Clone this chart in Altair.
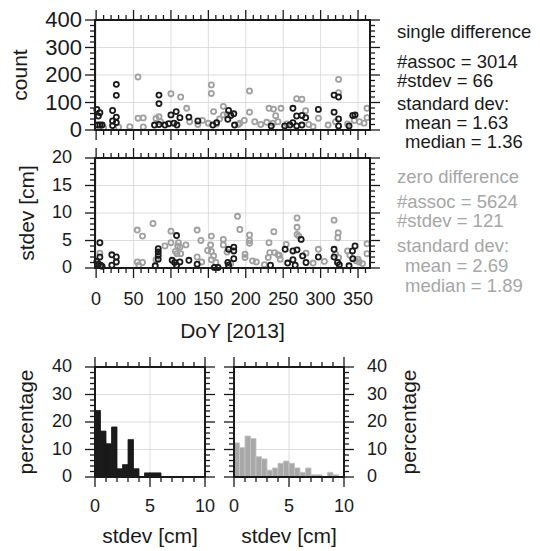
import altair as alt
import pandas as pd

# ---------------- data ----------------
# top panel: number of associations per day (single difference = black)
sd_count_doy = [1, 5, 3, 2, 5, 8,
                22, 22, 22, 27, 27, 27, 27,
                78, 84, 84, 84, 92, 97, 100, 104, 107, 112, 108, 124, 136,
                156, 161, 176, 177, 180, 184, 185,
                234, 252, 259, 263, 263, 268, 268, 275, 275, 280, 297,
                318, 318, 324, 324, 324, 338, 343, 346]
sd_count_val = [75, 63, 51, 18, 18, 18,
                71, 33, 16, 166, 126, 47, 27,
                18, 127, 96, 20, 18, 23, 55, 25, 67, 45, 18, 47, 33,
                18, 27, 39, 71, 53, 59, 18,
                15, 15, 18, 79, 27, 51, 15, 53, 18, 45, 75,
                127, 65, 120, 40, 15, 15, 53, 55]
# zero difference = grey
zd_count_doy = [56, 56, 63, 63, 80, 84, 86, 100, 113, 121,
                136, 142, 150, 154, 154, 157, 161, 165, 170, 170, 175,
                192, 198, 205, 205, 212, 220, 231, 237, 240, 247, 236, 243,
                268, 275, 280, 284, 297, 320, 324, 324, 336, 345, 352, 358,
                362, 362, 10, 30, 45, 125, 190, 228, 255, 290, 310]
zd_count_val = [193, 43, 44, 11, 42, 48, 30, 132, 120, 79,
                20, 35, 25, 164, 133, 67, 22, 40, 86, 55, 57,
                25, 35, 142, 65, 30, 20, 79, 76, 52, 79, 25, 30,
                114, 112, 70, 20, 43, 30, 184, 136, 22, 35, 30, 25,
                79, 45, 8, 10, 12, 30, 20, 28, 22, 12, 18]

# middle panel: standard deviation per day [cm]
sd_std_doy = [5, 5, 3, 6, 1, 8,
              21, 27, 27, 21,
              83, 83, 83, 83, 79,
              107.5, 101.6, 105, 112, 107.5, 124, 135, 158, 163,
              177, 184, 184, 184, 176, 177,
              233, 252.6, 263, 268.5, 274, 263, 276, 280.5, 256, 266,
              297, 318, 318, 322.6, 325,
              342.6, 346, 343, 338]
sd_std_val = [4.6, 2.0, 0.7, 0.5, 1.2, 0.3,
              2.4, 2.0, 1.1, 0.5,
              3.5, 2.9, 2.3, 1.6, 0.4,
              5.9, 1.4, 1.0, 1.1, 0.5, 1.4, 0.7, 0.1, 0.1,
              3.4, 3.8, 3.1, 1.7, 1.0, 0.5,
              0.5, 3.4, 3.1, 3.3, 5.2, 1.5, 2.2, 1.0, 0.9, 0.5,
              2.0, 3.4, 2.0, 1.0, 0.6,
              3.1, 4.0, 1.7, 0.4]
zd_std_doy = [5, 2, 55, 62, 55, 62, 57, 76,
              92, 100, 100, 108, 110, 112, 109, 106, 113, 120,
              135, 140, 135, 141, 154, 153, 149, 154, 157, 154, 160,
              170, 170, 175, 189, 192, 199, 199, 205, 205, 205, 209, 214,
              231, 237.5, 232, 238.5, 230, 245, 243, 246, 254,
              268.5, 268.5, 268.5, 271, 280.5, 297, 318, 323.5, 323, 320, 324,
              336, 339, 347, 351.6, 356, 350, 362, 362,
              80, 180, 290, 305, 225]
zd_std_val = [2.7, 1.0, 6.9, 5.8, 1.1, 1.0, 0.5, 8.1,
              4.0, 6.7, 4.6, 2.6, 4.6, 3.8, 4.0, 3.0, 2.6, 4.2,
              6.9, 5.0, 2.0, 1.1, 5.8, 4.2, 3.2, 3.0, 2.2, 1.5, 1.0,
              5.2, 4.2, 2.9, 9.4, 7.0, 2.5, 1.9, 6.0, 5.0, 4.5, 1.3, 1.1,
              4.6, 6.6, 2.8, 2.8, 1.9, 2.3, 2.4, 1.6, 4.3,
              9.1, 7.4, 6.1, 5.8, 2.7, 3.4, 8.7, 6.4, 5.5, 2.5, 1.9,
              3.1, 2.3, 1.3, 1.1, 0.8, 1.6, 4.4, 2.6,
              1.5, 0.8, 0.9, 1.2, 0.6]

# histograms of stdev [cm], bins of 0.5 cm, percentage
bin_lo = [0.0, 0.5, 1.0, 1.5, 2.0, 2.5, 3.0, 3.5, 4.0, 4.5,
          5.0, 5.5, 6.0, 6.5, 7.0, 7.5, 8.0, 8.5, 9.0, 9.5]
bin_hi = [0.5, 1.0, 1.5, 2.0, 2.5, 3.0, 3.5, 4.0, 4.5, 5.0,
          5.5, 6.0, 6.5, 7.0, 7.5, 8.0, 8.5, 9.0, 9.5, 10.0]
sd_pct = [24.2, 16.7, 12.1, 18.2, 3.0, 4.5, 13.6, 3.0, 0.0, 1.5,
          1.5, 1.5, 0.0, 0.0, 0.0, 0.0, 0.0, 0.0, 0.0, 0.0]
zd_pct = [12.4, 10.7, 14.9, 14.0, 7.4, 6.6, 2.5, 3.3, 5.0, 5.8,
          5.0, 3.3, 1.7, 3.3, 0.8, 0.8, 0.0, 1.7, 0.8, 0.0]

sd_text = ["single difference", "#assoc = 3014", "#stdev = 66",
           "standard dev:", " mean = 1.63", " median = 1.36"]
zd_text = ["zero difference", "#assoc = 5624", "#stdev = 121",
           "standard dev:", " mean = 2.69", " median = 1.89"]

# ticks and their labels
doy_major = [0, 50, 100, 150, 200, 250, 300, 350]
doy_labels = ["0", "50", "100", "150", "200", "250", "300", "350"]
doy_minor = [v for v in range(0, 361, 10) if v % 50]
count_major = [0, 100, 200, 300, 400]
count_labels = ["0", "100", "200", "300", "400"]
count_minor = [v for v in range(0, 401, 20) if v % 100]
std_major = [0, 5, 10, 15, 20]
std_labels = ["0", "5", "10", "15", "20"]
std_minor = [v for v in range(0, 21) if v % 5]
hx_major = [0, 5, 10]
hx_labels = ["0", "5", "10"]
hx_minor = [1, 2, 3, 4, 6, 7, 8, 9]
hy_major = [0, 10, 20, 30, 40]
hy_labels = ["0", "10", "20", "30", "40"]
hy_minor = [v for v in range(0, 41, 2) if v % 10]

# ---------------- styling ----------------
BLACK = "#1a1a1a"
GREY = "#a0a0a0"
GRIDC = "#d4d4d4"
FONT = "Liberation Sans"
MAJ, MIN = 10, 5  # tick lengths
TITLE_SIZE = 21


def vtitle(text, x, H):
    return alt.Chart(pd.DataFrame({"t": [text]})).mark_text(
        angle=270, align="center", baseline="middle", font=FONT,
        fontSize=TITLE_SIZE, color=BLACK).encode(
        text="t:N", x=alt.value(x), y=alt.value(H / 2))


def htitle(text, W, y):
    return alt.Chart(pd.DataFrame({"t": [text]})).mark_text(
        align="center", baseline="middle", font=FONT,
        fontSize=TITLE_SIZE, color=BLACK).encode(
        text="t:N", x=alt.value(W / 2), y=alt.value(y))


def grid_layers(xs, ys, W, H, xmaj, ymaj):
    gx = alt.Chart(pd.DataFrame({"g": xmaj})).mark_rule(
        color=GRIDC, strokeWidth=0.8).encode(
        x=alt.X("g:Q", scale=xs, axis=None), y=alt.value(0), y2=alt.value(H))
    gy = alt.Chart(pd.DataFrame({"g": ymaj})).mark_rule(
        color=GRIDC, strokeWidth=0.8).encode(
        y=alt.Y("g:Q", scale=ys, axis=None), x=alt.value(0), x2=alt.value(W))
    return [gx, gy]


def frame_layers(xs, ys, W, H, xmaj, xmin, ymaj, ymin):
    """ticks on all four sides (through the scales) and the black frame"""
    out = []
    for vals, L in ((xmaj, MAJ), (xmin, MIN)):
        base = alt.Chart(pd.DataFrame({"v": vals})).mark_rule(
            color=BLACK, strokeWidth=1.3)
        xe = alt.X("v:Q", scale=xs, axis=None)
        out.append(base.encode(x=xe, y=alt.value(H), y2=alt.value(H + L)))
        out.append(base.encode(x=xe, y=alt.value(-L), y2=alt.value(0)))
    for vals, L in ((ymaj, MAJ), (ymin, MIN)):
        base = alt.Chart(pd.DataFrame({"v": vals})).mark_rule(
            color=BLACK, strokeWidth=1.3)
        ye = alt.Y("v:Q", scale=ys, axis=None)
        out.append(base.encode(y=ye, x=alt.value(-L), x2=alt.value(0)))
        out.append(base.encode(y=ye, x=alt.value(W), x2=alt.value(W + L)))
    out.append(alt.Chart(pd.DataFrame({"a": [0]})).mark_rect(
        fillOpacity=0, stroke=BLACK, strokeWidth=2).encode(
        x=alt.value(0), x2=alt.value(W), y=alt.value(0), y2=alt.value(H)))
    return out


def xlabel_layer(xs, vals, labs, y, size=18):
    return alt.Chart(pd.DataFrame({"v": vals, "t": labs})).mark_text(
        align="center", baseline="middle", font=FONT, fontSize=size,
        color=BLACK).encode(
        x=alt.X("v:Q", scale=xs, axis=None), y=alt.value(y), text="t:N")


def ylabel_layer(ys, vals, labs, x, align, size=18):
    return alt.Chart(pd.DataFrame({"v": vals, "t": labs})).mark_text(
        align=align, baseline="middle", font=FONT, fontSize=size,
        color=BLACK).encode(
        y=alt.Y("v:Q", scale=ys, axis=None), x=alt.value(x), text="t:N")


x_doy = alt.Scale(domain=[-1.5, 366], nice=False, zero=False)
color_enc = alt.Color("series:N", scale=alt.Scale(domain=["zero", "single"],
                                                  range=[GREY, BLACK]), legend=None)


def frame_df(doy_g, val_g, doy_b, val_b):
    return pd.DataFrame({
        "doy": list(doy_g) + list(doy_b),
        "val": list(val_g) + list(val_b),
        "series": ["zero"] * len(doy_g) + ["single"] * len(doy_b),
    })


W1, H1 = 275, 110


def scatter_panel(df, yscale, ymaj, ylabs, ymin, ytitle, ylsize, ylx, ytx,
                  xlabels, extra=()):
    pts = alt.Chart(df).mark_point(filled=False, size=26, strokeWidth=1.8,
                                   opacity=1).encode(
        x=alt.X("doy:Q", scale=x_doy, axis=None),
        y=alt.Y("val:Q", scale=yscale, axis=None),
        color=color_enc,
    )
    layers = grid_layers(x_doy, yscale, W1, H1, doy_major, ymaj)
    layers.append(pts)
    layers += frame_layers(x_doy, yscale, W1, H1, doy_major, doy_minor, ymaj, ymin)
    layers.append(ylabel_layer(yscale, ymaj, ylabs, ylx, "right", ylsize))
    layers.append(vtitle(ytitle, ytx, H1))
    if xlabels:
        layers.append(xlabel_layer(x_doy, doy_major, doy_labels, H1 + 32))
        layers.append(htitle("DoY [2013]", W1, H1 + 64))
    layers += list(extra)
    return alt.layer(*layers).properties(width=W1, height=H1)


# text block at the right (positions relative to the top panel's plot area)
text_layers = []
sd_y = [18, 48, 67, 90, 109, 128]
zd_y = [163, 188, 207, 232, 252, 272]
for lines, ys, col in ((sd_text, sd_y, BLACK), (zd_text, zd_y, "#a6a6a6")):
    for line, yy in zip(lines, ys):
        indent = line.startswith(" ")
        text_layers.append(
            alt.Chart(pd.DataFrame({"t": [line.strip()]})).mark_text(
                align="left", baseline="alphabetic", font=FONT, fontSize=18.5,
                color=col).encode(
                text="t:N", x=alt.value(310 if indent else 302), y=alt.value(yy))
        )

top = scatter_panel(frame_df(zd_count_doy, zd_count_val, sd_count_doy, sd_count_val),
                    alt.Scale(domain=[0, 400], nice=False), count_major,
                    count_labels, count_minor, "count", 22, -13, -74, False,
                    text_layers)
mid = scatter_panel(frame_df(zd_std_doy, zd_std_val, sd_std_doy, sd_std_val),
                    alt.Scale(domain=[0, 20], nice=False), std_major,
                    std_labels, std_minor, "stdev [cm]", 18, -23, -67, True)

W2, H2 = 110, 110


def hist_panel(pct, color, stroke, labels_left):
    df = pd.DataFrame({"lo": bin_lo, "hi": bin_hi, "pct": pct})
    xs = alt.Scale(domain=[0, 10], nice=False)
    ys = alt.Scale(domain=[0, 40], nice=False)
    bars = alt.Chart(df).mark_bar(color=color, stroke=stroke, strokeWidth=0.8,
                                  opacity=1).encode(
        x=alt.X("lo:Q", scale=xs, axis=None),
        x2="hi:Q",
        y=alt.Y("pct:Q", scale=ys, axis=None),
        y2=alt.datum(0),
    )
    layers = grid_layers(xs, ys, W2, H2, hx_major, hy_major)
    layers.append(bars)
    layers += frame_layers(xs, ys, W2, H2, hx_major, hx_minor, hy_major, hy_minor)
    layers.append(xlabel_layer(xs, hx_major, hx_labels, H2 + 30))
    layers.append(htitle("stdev [cm]", W2, H2 + 60))
    if labels_left:
        layers.append(ylabel_layer(ys, hy_major, hy_labels, -23, "right"))
        layers.append(vtitle("percentage", -68, H2))
    else:
        layers.append(ylabel_layer(ys, hy_major, hy_labels, W2 + 23, "left"))
        layers.append(vtitle("percentage", W2 + 66, H2))
    return alt.layer(*layers).properties(width=W2, height=H2)


hist_l = hist_panel(sd_pct, BLACK, BLACK, True)
hist_r = hist_panel(zd_pct, "#a8a8a8", "#c4c4c4", False)

upper = alt.vconcat(top, mid, spacing=28, bounds="flush")
lower = alt.hconcat(hist_l, hist_r, spacing=7)

chart = alt.vconcat(upper, lower, spacing=14).properties(
    padding={"left": 2, "top": 1, "right": 0, "bottom": 0},
    background="white",
).configure(font=FONT).configure_view(strokeWidth=0)

chart.save("out.html", embed_options={"renderer": "svg", "actions": False})
